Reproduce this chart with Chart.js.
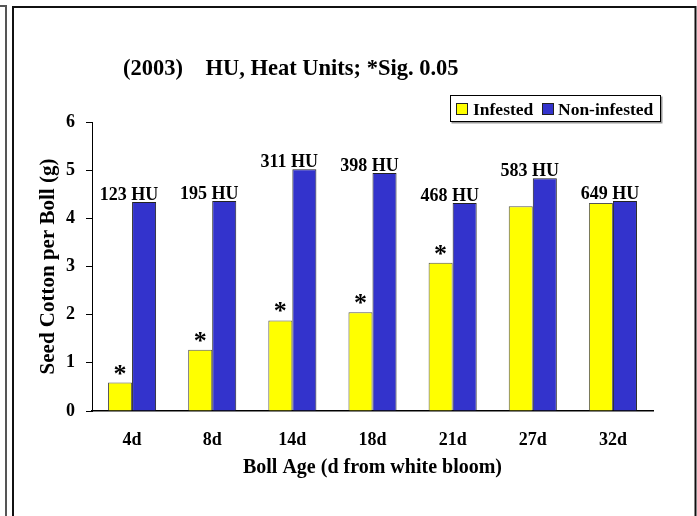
<!DOCTYPE html>
<html>
<head>
<meta charset="utf-8">
<script src="https://cdn.jsdelivr.net/npm/chart.js@4.4.1/dist/chart.umd.min.js"></script>
<style>
  html, body { margin: 0; padding: 0; background: #fff; }
  #wrap { width: 697px; height: 516px; position: relative; }
</style>
</head>
<body>
<div id="wrap"><canvas id="c" width="697" height="516"></canvas></div>
<script>
// Boll age categories (days from white bloom)
const bollAges = ['4d', '8d', '14d', '18d', '21d', '27d', '32d'];
// Heat units accumulated at each boll age
const heatUnits = ['123 HU', '195 HU', '311 HU', '398 HU', '468 HU', '583 HU', '649 HU'];
// Seed cotton per boll (g)
const infested = [0.59, 1.27, 1.88, 2.05, 3.08, 4.25, 4.32];
const nonInfested = [4.34, 4.36, 5.02, 4.94, 4.32, 4.83, 4.36];
// Significant difference at 0.05 for each boll age
const significant = [true, true, true, true, true, false, false];
const yTicks = [0, 1, 2, 3, 4, 5, 6];

const titleText = '(2003)    HU, Heat Units; *Sig. 0.05';
const xTitle = 'Boll Age (d from white bloom)';
const yTitle = 'Seed Cotton per Boll (g)';

const SERIF = '"Liberation Serif", "Times New Roman", serif';
const YELLOW = '#FFFF00';
const BLUE = '#3333CC';

const decorations = {
  id: 'decorations',
  beforeDraw(chart) {
    const ctx = chart.ctx;
    ctx.save();
    ctx.fillStyle = '#fff';
    ctx.fillRect(0, 0, chart.width, chart.height);
    // panel frames
    ctx.lineWidth = 2;
    ctx.strokeStyle = '#555';
    ctx.beginPath();
    ctx.moveTo(0, 6); ctx.lineTo(6, 6); ctx.lineTo(6, chart.height + 2);
    ctx.stroke();
    ctx.strokeStyle = '#111';
    ctx.beginPath();
    ctx.moveTo(13, chart.height + 2); ctx.lineTo(13, 7); ctx.lineTo(695.5, 7); ctx.lineTo(695.5, chart.height + 2);
    ctx.stroke();
    ctx.restore();
  },
  afterDatasetsDraw(chart) {
    const ctx = chart.ctx;
    const a = chart.chartArea;
    const m0 = chart.getDatasetMeta(0);
    const m1 = chart.getDatasetMeta(1);
    ctx.save();
    ctx.fillStyle = '#000';
    ctx.textAlign = 'center';
    ctx.textBaseline = 'alphabetic';
    // heat unit labels over each pair
    ctx.font = 'bold 18px ' + SERIF;
    bollAges.forEach((_, i) => {
      const b0 = m0.data[i], b1 = m1.data[i];
      const cx = (b0.x + b1.x) / 2 - 3;
      const top = Math.min(b0.y, b1.y);
      ctx.fillText(heatUnits[i], cx, top - 2);
    });
    // significance marks over infested bars
    ctx.font = 'bold 26px ' + SERIF;
    bollAges.forEach((_, i) => {
      if (!significant[i]) return;
      const b0 = m0.data[i];
      ctx.fillText('*', b0.x, b0.y - 1);
    });
    // title
    ctx.font = 'bold 22.5px ' + SERIF;
    ctx.textBaseline = 'middle';
    ctx.textAlign = 'left';
    ctx.fillText(titleText, 123, 69);
    // axis titles
    ctx.textAlign = 'center';
    ctx.font = 'bold 20px ' + SERIF;
    ctx.fillText(xTitle, (a.left + a.right) / 2, 468);
    ctx.save();
    ctx.font = 'bold 21px ' + SERIF;
    ctx.translate(49, (a.top + a.bottom) / 2);
    ctx.rotate(-Math.PI / 2);
    ctx.fillText(yTitle, 0, 0);
    ctx.restore();
    // legend
    const lx = 450.5, ly = 95.5, lw = 210, lh = 26;
    ctx.fillStyle = '#999';
    ctx.fillRect(lx + 1, ly + 1, lw + 1, lh + 1);
    ctx.fillStyle = '#fff';
    ctx.fillRect(lx, ly, lw, lh);
    ctx.strokeStyle = '#000';
    ctx.lineWidth = 1;
    ctx.strokeRect(lx, ly, lw, lh);
    ctx.font = 'bold 17.5px ' + SERIF;
    ctx.textAlign = 'left';
    ctx.textBaseline = 'middle';
    const items = [
      { label: chart.data.datasets[0].label, color: YELLOW, sx: 456, tx: 473 },
      { label: chart.data.datasets[1].label, color: BLUE, sx: 542, tx: 558 }
    ];
    items.forEach(it => {
      ctx.fillStyle = it.color;
      ctx.fillRect(it.sx + 0.5, 103.5, 11, 11);
      ctx.strokeStyle = '#222';
      ctx.strokeRect(it.sx + 0.5, 103.5, 11, 11);
      ctx.fillStyle = '#000';
      ctx.fillText(it.label, it.tx, 110);
    });
    ctx.restore();
  }
};

new Chart(document.getElementById('c'), {
  type: 'bar',
  data: {
    labels: bollAges,
    datasets: [
      { label: 'Infested', data: infested, backgroundColor: YELLOW, borderColor: '#555', borderWidth: 1 },
      { label: 'Non-infested', data: nonInfested, backgroundColor: BLUE, borderColor: '#222', borderWidth: 1 }
    ]
  },
  options: {
    responsive: false,
    animation: false,
    devicePixelRatio: 1,
    categoryPercentage: 0.6,
    barPercentage: 1.0,
    layout: { padding: { left: 0, right: 44, top: 122, bottom: 0 } },
    plugins: { legend: { display: false }, title: { display: false }, tooltip: { enabled: false } },
    scales: {
      x: {
        afterFit(s) { s.height = 105; },
        grid: { display: false, drawTicks: false },
        border: { display: true, color: '#000', width: 1.5 },
        ticks: { color: '#000', padding: 19, font: { family: SERIF, size: 18, weight: 'bold' } }
      },
      y: {
        min: 0, max: 6,
        afterFit(s) { s.width = 92; },
        afterBuildTicks(s) { s.ticks = yTicks.map(v => ({ value: v })); },
        grid: { drawOnChartArea: false, drawTicks: true, tickLength: 6, color: '#000' },
        border: { display: true, color: '#000', width: 1 },
        ticks: { color: '#000', padding: 11, font: { family: SERIF, size: 18, weight: 'bold' } }
      }
    }
  },
  plugins: [decorations]
});
</script>
</body>
</html>
